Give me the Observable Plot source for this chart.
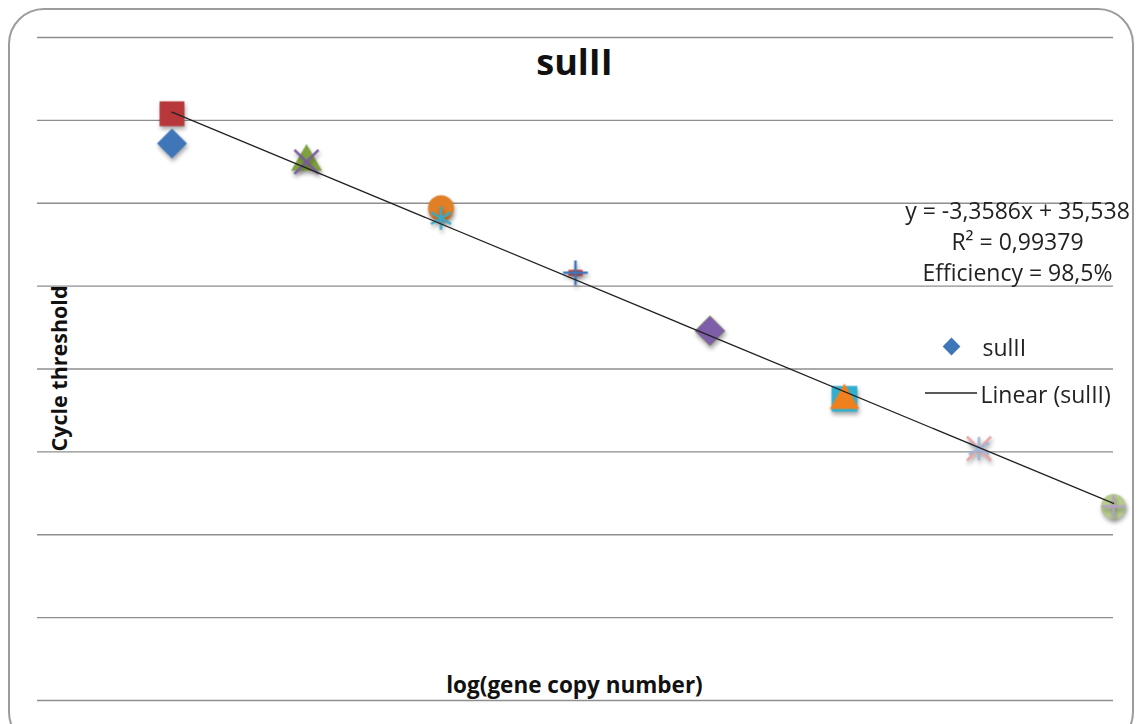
<!DOCTYPE html>
<html>
<head>
<meta charset="utf-8">
<script src="https://cdn.jsdelivr.net/npm/d3@7"></script>
<script src="https://cdn.jsdelivr.net/npm/@observablehq/plot@0.6"></script>
<style>
  html, body { margin: 0; padding: 0; background: #fff; overflow: hidden; }
  #wrap { position: relative; width: 1141px; height: 724px; }
  #border { position: absolute; left: 8px; top: 8px; width: 1126px; height: 740px;
            border: 2px solid #9c9c9c; border-radius: 36px; box-sizing: border-box; }
  #chart { position: absolute; left: 0; top: 0; }
  .shadow { filter: drop-shadow(1px 3px 2px rgba(0,0,0,0.35)); }
</style>
</head>
<body>
<div id="wrap"><div id="border"></div><div id="chart"></div></div>
<script>
// ---- data ----
const title = "sulII";
const xLabel = "log(gene copy number)";
const yLabel = "Cycle threshold";
const equationLines = ["y = -3,3586x + 35,538", "R² = 0,99379", "Efficiency = 98,5%"];
const seriesName = "sulII";
const trendName = "Linear (sulII)";
const logCopies = [0, 0, 1, 1, 2, 2, 3, 3, 4, 4, 5, 5, 6, 6, 7, 7];
const ctValues  = [33.6, 35.4, 32.5, 32.5, 29.1, 29.7, 25.8, 25.8, 22.3, 22.3, 18.2, 18.1, 15.2, 15.2, 11.7, 11.7];
const gridTicks = [0, 5, 10, 15, 20, 25, 30, 35, 40];

// ---- marker styles (Excel-like auto markers) ----
const dash = { draw(ctx, size) { const w = Math.sqrt(size) * 0.9, h = w * 0.42; ctx.rect(-w / 2, -h / 2, w, h); } };
const markerSymbols = ["diamond2", "square", "triangle", "times", "asterisk", "circle", "plus", dash,
                       "diamond2", "diamond2", "square", "triangle", "times", "asterisk", "circle", "plus"];
const markerSizes   = [13.5, 14, 11.5, 11, 11, 13, 8, 9,
                       14, 13.5, 14.5, 11, 11, 11, 12.5, 7.5];
const markerColors  = ["#3f76b8", "#b8373a", "#7fa23e", "#7a5aa0", "#3aaac8", "#e17f26", "#3f76b8", "#c8403c",
                       "#8fb04a", "#7e5ea8", "#2fb0d0", "#f0801e", "#e8a3a1", "#9db5dc", "#b8cc8f", "#b3a2c7"];
const markerStroked = [false, false, false, true, true, false, true, false,
                       false, false, false, false, true, true, false, true];

const points = logCopies.map((x, i) => ({
  x, ct: ctValues[i], symbol: markerSymbols[i], size: markerSizes[i], color: markerColors[i], stroked: markerStroked[i]
}));

const font = "'Open Sans', sans-serif";

const legendLine = () => {
  const g = d3.create("svg:line")
    .attr("x1", 925).attr("x2", 977).attr("y1", 393).attr("y2", 393)
    .attr("stroke", "#222").attr("stroke-width", 1.3);
  return g.node();
};

const chart = Plot.plot({
  width: 1141,
  height: 724,
  marginLeft: 37,
  marginRight: 28,
  marginTop: 37,
  marginBottom: 24,
  style: { fontFamily: font, background: "transparent" },
  x: { domain: [-1, 7], axis: null },
  y: { domain: [0, 40], axis: null },
  r: { type: "identity" },
  marks: [
    Plot.ruleY(gridTicks, { stroke: "#8e8e8e", strokeWidth: 1.3 }),
    Plot.dot(points.filter(d => !d.stroked), {
      x: "x", y: "ct", symbol: "symbol", fill: d => d.color, r: "size", stroke: "none",
      className: "shadow"
    }),
    Plot.dot(points.filter(d => d.stroked), {
      x: "x", y: "ct", symbol: "symbol", stroke: d => d.color, r: "size", strokeWidth: 2.5, fill: "none",
      className: "shadow"
    }),
    Plot.linearRegressionY(points, { x: "x", y: "ct", ci: 0, stroke: "#222", strokeWidth: 1.3 }),
    // title
    Plot.text([title], { frameAnchor: "top-left", dx: 537, dy: 12, text: d => d, fontSize: 36, fontWeight: "bold", fill: "#111", textAnchor: "middle" }),
    // axis titles
    Plot.text([yLabel], { frameAnchor: "top-left", dx: 14, dy: 331, text: d => d, rotate: -90, fontSize: 21.5, fontWeight: "bold", fill: "#111", textAnchor: "middle" }),
    Plot.text([xLabel], { frameAnchor: "top-left", dx: 537, dy: 640, text: d => d, fontSize: 22.5, fontWeight: "bold", fill: "#111", textAnchor: "middle" }),
    // equation
    ...equationLines.map((t, i) => Plot.text([t], { frameAnchor: "top-left", dx: 980, dy: 165 + 31 * i, text: d => d, fontSize: 23, fill: "#222", textAnchor: "middle" })),
    // legend
    Plot.dot([seriesName], { frameAnchor: "top-left", dx: 914, dy: 309, symbol: "diamond2", r: 8, fill: "#3f76b8" }),
    Plot.text([seriesName], { frameAnchor: "top-left", dx: 945, dy: 302, text: d => d, fontSize: 23, fill: "#222", textAnchor: "start" }),
    legendLine,
    Plot.text([trendName], { frameAnchor: "top-left", dx: 943, dy: 349, text: d => d, fontSize: 23, fill: "#222", textAnchor: "start" })
  ]
});
document.getElementById("chart").appendChild(chart);
</script>
</body>
</html>
